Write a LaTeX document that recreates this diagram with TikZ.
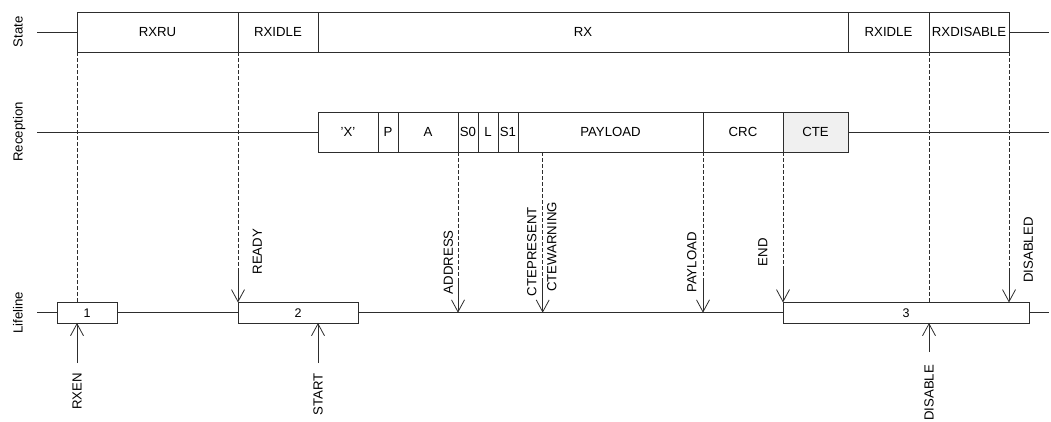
\documentclass[tikz,border=0pt]{standalone}
\usepackage{fontspec}
\setmainfont{Liberation Sans}
\usetikzlibrary{arrows.meta}
\definecolor{lc}{RGB}{45,45,45}
\definecolor{ctefill}{RGB}{240,240,240}
\begin{document}
\begin{tikzpicture}[x=1pt,y=-1pt,
  every node/.style={font=\fontsize{13.2}{15}\selectfont, inner sep=0pt, outer sep=0pt, text=black},
  box/.style={draw=lc, fill=white, line width=0.8pt, minimum height=40pt, anchor=west},
  lbox/.style={draw=lc, fill=white, line width=0.8pt, minimum height=20.5pt, anchor=west, font=\fontsize{12.5}{14}\selectfont},
  ln/.style={draw=lc, line width=0.8pt},
  dsh/.style={ln, dash pattern=on 4pt off 2pt},
  arr/.style={ln, -{Straight Barb[length=12pt,width=13pt]}},
  lblup/.style={rotate=90, anchor=west},
  lbldn/.style={rotate=90, anchor=east},
  side/.style={rotate=90, anchor=base}
]
\useasboundingbox (0,0) rectangle (1051,421);

% side labels
\node[side] (tState) at (22.5,32) {State};
\node[side] (tRec) at (22.5,132) {Reception};
\node[side] (tLife) at (22.5,312.7) {Lifeline};

% State row
\node[box, minimum width=161pt] (rxru) at (77,32) {RXRU};
\node[box, minimum width=80pt] (rxidle) at (rxru.east) {RXIDLE};
\node[box, minimum width=530pt] (rx) at (rxidle.east) {RX};
\node[box, minimum width=81pt] (rxidleB) at (rx.east) {RXIDLE};
\node[box, minimum width=80pt] (rxdis) at (rxidleB.east) {RXDISABLE};
\coordinate (stL) at (37,32);
\coordinate (stR) at (1049,32);
\draw[ln] (stL) -- (rxru.west);
\draw[ln] (rxdis.east) -- (stR);

% Reception row
\node[box, minimum width=60pt] (px) at (318,132) {'X'};
\node[box, minimum width=20pt] (pp) at (px.east) {P};
\node[box, minimum width=60pt] (pa) at (pp.east) {A};
\node[box, minimum width=20pt] (ps0) at (pa.east) {S0};
\node[box, minimum width=20pt] (pl) at (ps0.east) {L};
\node[box, minimum width=20pt] (ps1) at (pl.east) {S1};
\node[box, minimum width=185pt] (ppay) at (ps1.east) {PAYLOAD};
\node[box, minimum width=80pt] (pcrc) at (ppay.east) {CRC};
\node[box, minimum width=65pt, fill=ctefill] (pcte) at (pcrc.east) {CTE};
\coordinate (reL) at (37,132);
\coordinate (reR) at (1049,132);
\draw[ln] (reL) -- (px.west);
\draw[ln] (pcte.east) -- (reR);

% Lifeline row
\node[lbox, minimum width=60pt] (b1) at (57,312.7) {1};
\node[lbox, minimum width=120pt] (b2) at (238,312.7) {2};
\node[lbox, minimum width=246pt] (b3) at (783,312.7) {3};
\coordinate (liL) at (37,312.7);
\coordinate (liR) at (1049,312.7);
\draw[ln] (liL) -- (b1.west);
\draw[ln] (b1.east) -- (b2.west);
\draw[ln] (b2.east) -- (b3.west);
\draw[ln] (b3.east) -- (liR);

% dashed connectors from State
\draw[dsh] (rxru.south west) -- (rxru.south west |- b1.north);
\coordinate (rdy) at (238,271);
\draw[dsh] (rxidle.south west) -- (rdy);
\draw[arr] (rdy) -- (b2.north west);
\draw[dsh] (rxdis.south west) -- (rxdis.south west |- b3.north);
\coordinate (dsd) at (1009,268);
\draw[dsh] (rxdis.south east) -- (dsd);
\draw[arr] (dsd) -- (dsd |- b3.north);

% dashed connectors from Reception
\coordinate (adr) at (458,278);
\draw[dsh] (ps0.south west) -- (adr);
\draw[arr] (adr) -- (adr |- liL);
\coordinate (cteT) at (542.7,152);
\coordinate (cteA) at (542.7,278);
\draw[dsh] (cteT) -- (cteA);
\draw[arr] (cteA) -- (cteA |- liL);
\coordinate (pay) at (703,278);
\draw[dsh] (pcrc.south west) -- (pay);
\draw[arr] (pay) -- (pay |- liL);
\coordinate (endc) at (783,268);
\draw[dsh] (pcte.south west) -- (endc);
\draw[arr] (endc) -- (b3.north west);

% labels above lifeline
\node[lblup] (lReady) at (257.3,274.5) {READY};
\node[lblup] (lAddr) at (448.3,294) {ADDRESS};
\node[lblup] (lCteP) at (531.7,296) {CTEPRESENT};
\node[lblup] (lCteW) at (551.7,291.7) {CTEWARNING};
\node[lblup] (lPay) at (691.7,292.7) {PAYLOAD};
\node[lblup] (lEnd) at (762.7,266) {END};
\node[lblup] (lDisd) at (1028.3,282.7) {DISABLED};

% up arrows and labels below lifeline
\coordinate (rxenA) at (77,363);
\draw[arr] (rxenA) -- (rxenA |- b1.south);
\node[lbldn] (lRxen) at (77,373) {RXEN};
\coordinate (startA) at (318,363);
\draw[arr] (startA) -- (startA |- b2.south);
\node[lbldn] (lStart) at (318,373) {START};
\coordinate (disA) at (929,352);
\draw[arr] (disA) -- (disA |- b3.south);
\node[lbldn] (lDis) at (929,365) {DISABLE};
\end{tikzpicture}
\end{document}
